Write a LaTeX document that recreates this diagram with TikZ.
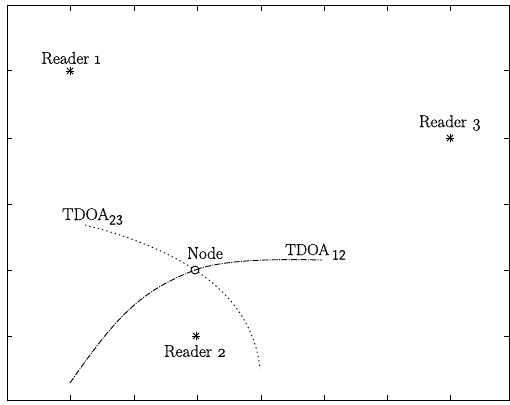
\documentclass[tikz,border=0pt]{standalone}
\usepackage{fontspec}
\newfontfamily\lblfont{Latin Modern Roman}[FakeBold=0.6]
\newfontfamily\subfont{Latin Modern Sans}[FakeBold=0.4]
\newcommand{\lowsub}[1]{\raisebox{-4.5pt}{\subfont\fontsize{14}{16}\selectfont #1}}
\begin{document}
\begin{tikzpicture}[x=1pt,y=-1pt,
  frame/.style={line width=1pt},
  tick/.style={line width=0.9pt},
  curveA/.style={line width=0.9pt, dash pattern=on 6pt off 1.3pt on 1pt off 1.3pt},
  curveB/.style={line width=0.9pt, dash pattern=on 1.4pt off 3pt},
  readermark/.style={circle, minimum size=9pt, inner sep=0pt,
    path picture={
      \draw[line width=1pt] (path picture bounding box.north) -- (path picture bounding box.south);
      \draw[line width=1pt] (path picture bounding box.west) -- (path picture bounding box.east);
      \draw[line width=0.8pt] (path picture bounding box.north west) -- (path picture bounding box.south east);
      \draw[line width=0.8pt] (path picture bounding box.north east) -- (path picture bounding box.south west);
    }},
  nodemark/.style={circle, draw, line width=0.9pt, minimum size=8pt, inner sep=0pt},
  lbl/.style={font=\lblfont\fontsize{17}{20}\selectfont, inner sep=0pt},
  lblsmall/.style={font=\lblfont\fontsize{16}{18}\selectfont, inner sep=0pt}
]
\useasboundingbox (0,0) rectangle (510,404);
% frame
\draw[frame] (7,6) rectangle (509,400);
% x ticks
\foreach \x in {70,134,197,261,324,387,450}{
  \draw[tick] (\x,400) -- (\x,395);
  \draw[tick] (\x,6) -- (\x,11);
}
% y ticks
\foreach \y in {70,138,204,270,336}{
  \draw[tick] (7,\y) -- (12,\y);
  \draw[tick] (509,\y) -- (504,\y);
}
% readers
\node[readermark] (r1) at (70,71) {};
\node[readermark] (r2) at (196,336) {};
\node[readermark] (r3) at (450,138) {};
\node[nodemark] (nd) at (195,270) {};
% labels
\node[lbl] (l1) at (71,58) {Reader \oldstylenums{1}};
\node[lbl] (l2) at (195,351) {Reader \oldstylenums{2}};
\node[lbl] (l3) at (450,123) {Reader \oldstylenums{3}};
\node[lbl] (ln) at (205,253) {Node};
\node[lbl, anchor=base west] (t23) at (62,220) {TDOA\lowsub{23}};
\node[lblsmall, anchor=base west] (t12) at (285,255) {TDOA\,\lowsub{12}};
% curves
\draw[curveA] (70,383) .. controls (116,317) and (140,291) .. (nd.center)
  .. controls (225,259) and (280,259) .. (322,260);
\draw[curveB] (85,225) .. controls (130,236) and (170,253) .. (nd.center)
  .. controls (224,289) and (255,320) .. (260,369);
\end{tikzpicture}
\end{document}
